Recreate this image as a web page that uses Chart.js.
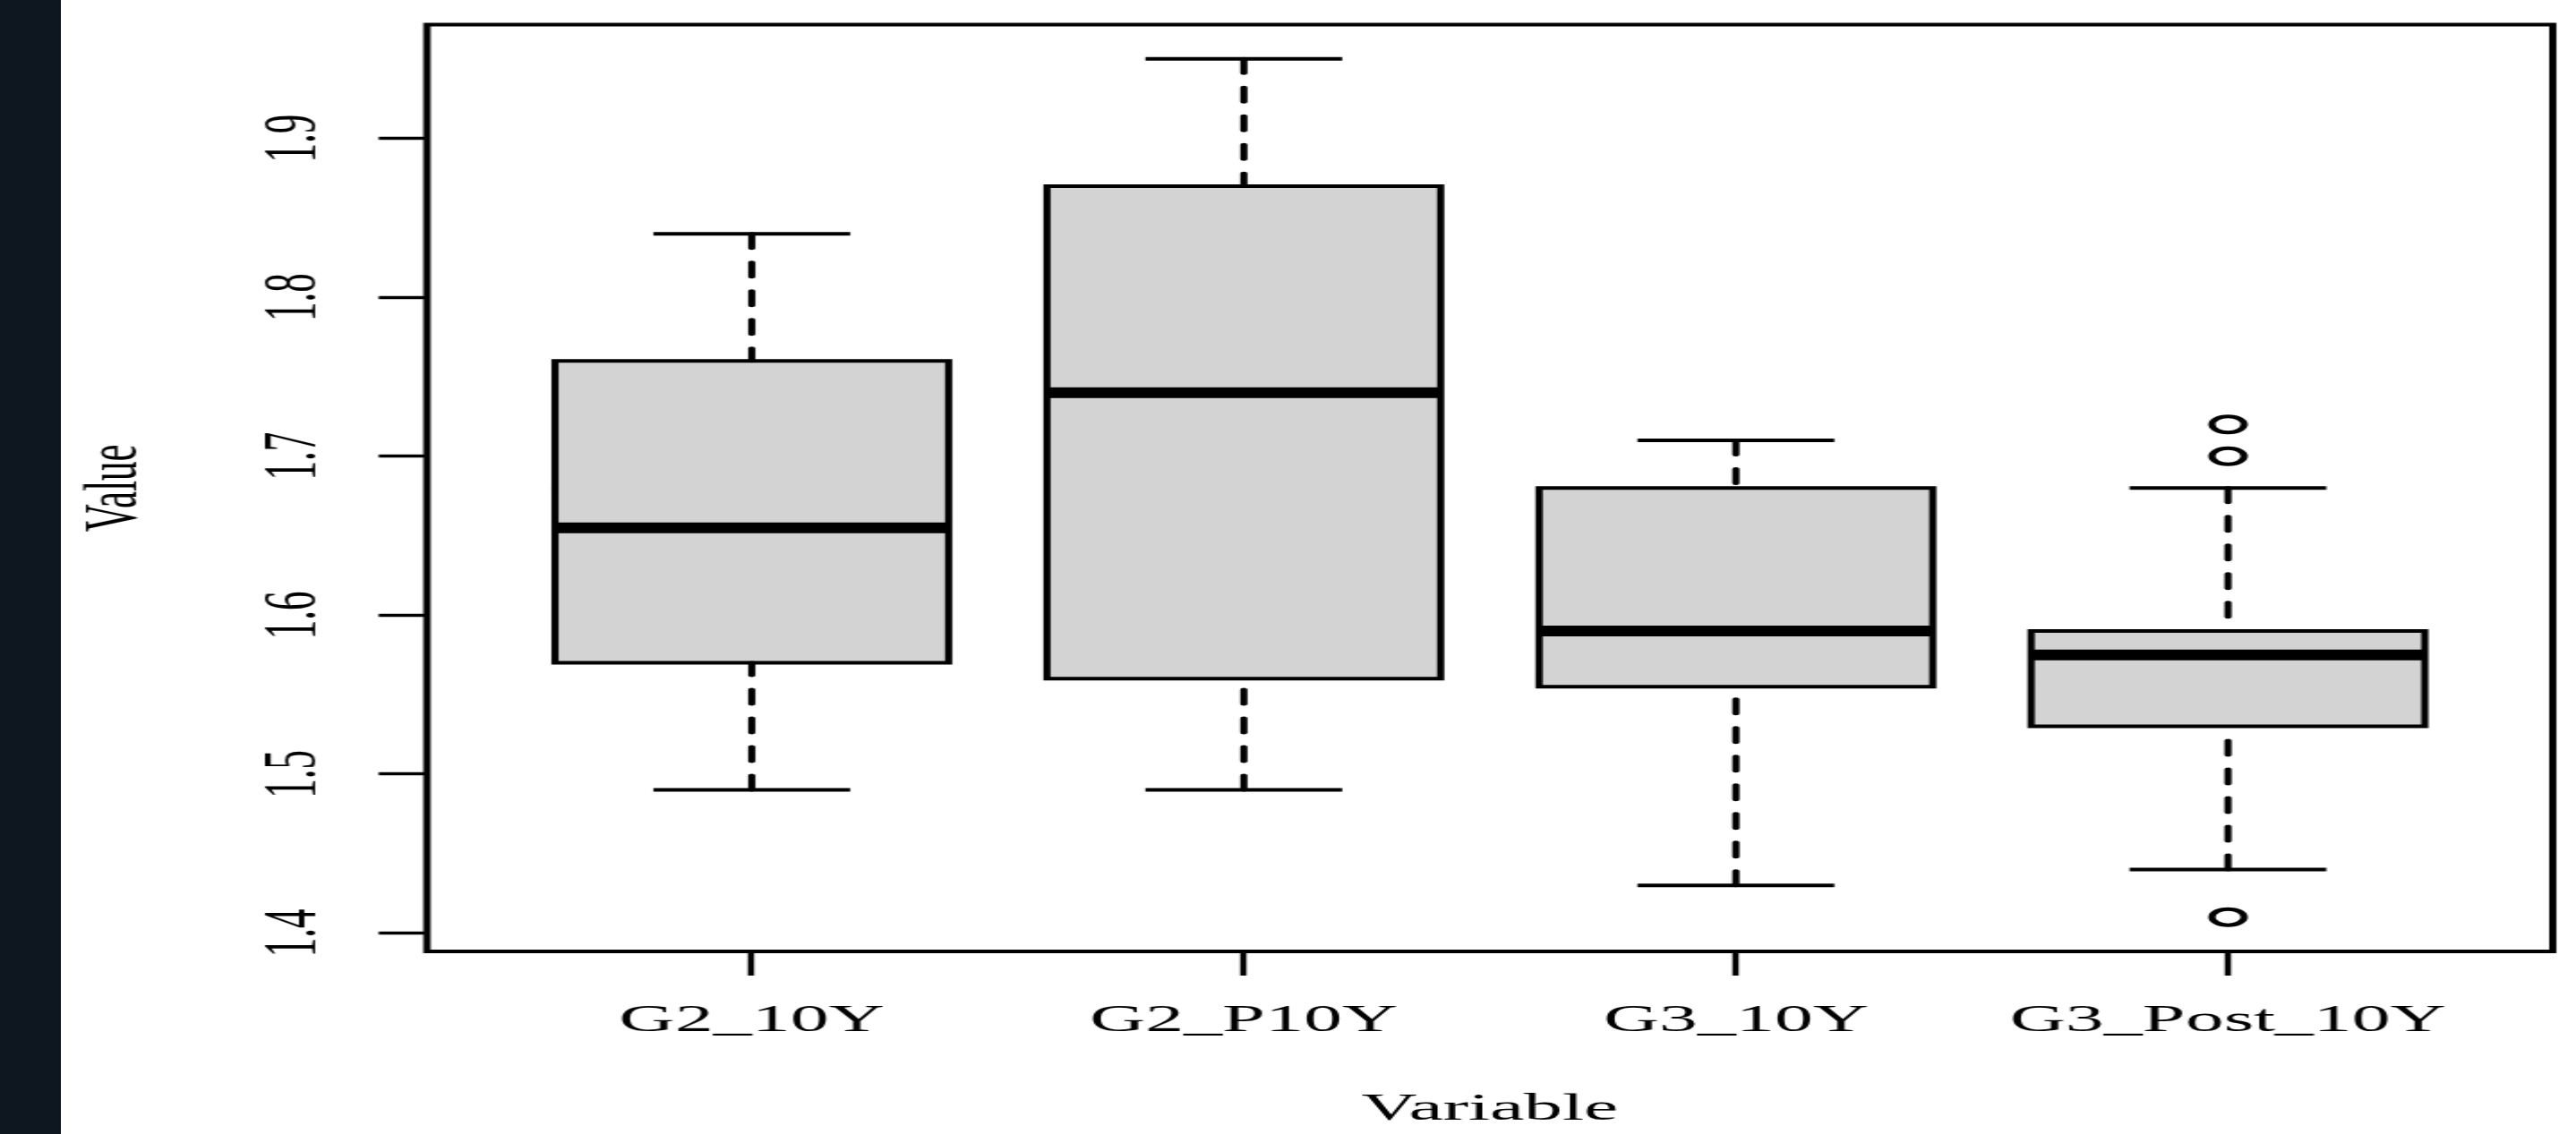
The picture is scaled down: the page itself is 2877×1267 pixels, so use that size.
<!DOCTYPE html>
<html>
<head>
<meta charset="utf-8">
<title>Boxplot</title>
<script src="https://cdn.jsdelivr.net/npm/chart.js@4.4.1/dist/chart.umd.min.js"></script>
<style>
  html, body { margin: 0; padding: 0; background: #fff; overflow: hidden; }
  #side { position: absolute; left: 0; top: 0; width: 68px; height: 1267px; background: #0e1720; }
  /* the reference is stretched sideways, so the chart is drawn narrow and scaled x2 */
  #plot { position: absolute; left: 68px; top: 0; transform: scaleX(1.99929); transform-origin: 0 0; }
</style>
</head>
<body>
<div id="side"></div>
<canvas id="plot" width="1405" height="1267"></canvas>
<script>
// data
var categories = ['G2_10Y', 'G2_P10Y', 'G3_10Y', 'G3_Post_10Y'];
var lowWhisker = [1.49, 1.49, 1.43, 1.44];
var lowerQuartile = [1.57, 1.56, 1.555, 1.53];
var medians = [1.655, 1.74, 1.59, 1.575];
var upperQuartile = [1.76, 1.87, 1.68, 1.59];
var highWhisker = [1.84, 1.95, 1.71, 1.68];
var outlierGroup = [4, 4, 4];
var outlierValues = [1.72, 1.70, 1.41];
var yTicks = [1.4, 1.5, 1.6, 1.7, 1.8, 1.9];

var black = '#000000';
var grey = '#d3d3d3';
var serif = "'Liberation Serif', 'Times New Roman', serif";

// R style range: data range plus 4% on each side
var allValues = lowWhisker.concat(highWhisker, outlierValues);
var lo = Math.min.apply(null, allValues);
var hi = Math.max.apply(null, allValues);
var yMin = lo - (hi - lo) * 0.04;
var yMax = hi + (hi - lo) * 0.04;
var n = categories.length;
var xMin = 0.5 - n * 0.04;
var xMax = n + 0.5 + n * 0.04;

var boxFill = [], boxEdges = [], whiskers = [], caps = [], medianLines = [], outliers = [];
categories.forEach(function (c, i) {
  var x = i + 1;
  boxFill.push({ x: x, y: [lowerQuartile[i], upperQuartile[i]] });
  boxEdges.push(
    { x: x - 0.4, y: lowerQuartile[i] }, { x: x - 0.4, y: upperQuartile[i] },
    { x: x + 0.4, y: upperQuartile[i] }, { x: x + 0.4, y: lowerQuartile[i] },
    { x: x - 0.4, y: lowerQuartile[i] }, { x: x - 0.4, y: upperQuartile[i] },
    { x: x + 0.5, y: null });
  whiskers.push(
    { x: x, y: highWhisker[i] }, { x: x, y: upperQuartile[i] }, { x: x + 0.1, y: null },
    { x: x, y: lowWhisker[i] }, { x: x, y: lowerQuartile[i] }, { x: x + 0.2, y: null });
  caps.push(
    { x: x - 0.2, y: highWhisker[i] }, { x: x + 0.2, y: highWhisker[i] }, { x: x + 0.3, y: null },
    { x: x - 0.2, y: lowWhisker[i] }, { x: x + 0.2, y: lowWhisker[i] }, { x: x + 0.4, y: null });
  medianLines.push({ x: x - 0.4, y: medians[i] }, { x: x + 0.4, y: medians[i] }, { x: x + 0.5, y: null });
});
for (var k = 0; k < outlierValues.length; k++) {
  outliers.push({ x: outlierGroup[k], y: outlierValues[k] });
}

function segLine(data, width, dash, cap, order) {
  return {
    type: 'line', data: data, order: order,
    borderColor: black, borderWidth: width, borderDash: dash,
    borderCapStyle: cap, borderJoinStyle: 'miter',
    pointRadius: 0, pointHoverRadius: 0, tension: 0, fill: false, spanGaps: false
  };
}

// full frame round the plot, like box() in R
var frame = {
  id: 'frame',
  afterDatasetsDraw: function (chart) {
    var a = chart.chartArea;
    var ctx = chart.ctx;
    ctx.save();
    ctx.lineWidth = 4;
    ctx.strokeStyle = black;
    ctx.strokeRect(a.left, a.top, a.right - a.left, a.bottom - a.top);
    ctx.restore();
  }
};

var ctx = document.getElementById('plot').getContext('2d');
var myChart = new Chart(ctx, {
  type: 'line',
  data: {
    datasets: [
      {
        type: 'scatter', data: outliers, order: 0,
        pointRadius: 9, pointHoverRadius: 9, pointBorderWidth: 4,
        pointBackgroundColor: 'rgba(0,0,0,0)', pointBorderColor: black, showLine: false
      },
      segLine(medianLines, 12, [], 'butt', 1),
      segLine(boxEdges, 4, [], 'butt', 2),
      segLine(caps, 4, [], 'butt', 2),
      segLine(whiskers, 4, [16, 16], 'round', 3),
      {
        type: 'bar', data: boxFill, order: 4,
        backgroundColor: grey, borderWidth: 0, borderSkipped: false,
        barPercentage: 0.8, categoryPercentage: 1.0, inflateAmount: 0
      }
    ]
  },
  options: {
    responsive: false,
    animation: false,
    devicePixelRatio: 1,
    layout: { padding: { left: 0, right: 12, top: 27.5, bottom: 0 } },
    plugins: { legend: { display: false }, tooltip: { enabled: false } },
    scales: {
      x: {
        type: 'linear', min: xMin, max: xMax, offset: false,
        afterBuildTicks: function (s) {
          s.ticks = categories.map(function (c, i) { return { value: i + 1 }; });
        },
        afterFit: function (s) {
          s.height = 204;
          s.paddingLeft = 0;
          s.paddingRight = 0;
        },
        ticks: {
          autoSkip: false, maxRotation: 0, minRotation: 0, padding: 25,
          color: black, font: { family: serif, size: 43 },
          callback: function (v, i) { return categories[i]; }
        },
        grid: {
          offset: false, drawOnChartArea: false, drawTicks: true,
          tickLength: 27, tickWidth: 3.5, tickColor: black
        },
        border: { display: false },
        title: {
          display: true, text: 'Variable', color: black,
          font: { family: serif, size: 43 }, padding: { top: 0, bottom: 1 }
        }
      },
      y: {
        type: 'linear', min: yMin, max: yMax,
        afterBuildTicks: function (s) {
          s.ticks = yTicks.map(function (v) { return { value: v }; });
        },
        afterFit: function (s) {
          s.width = 204.5;
          s.paddingTop = 0;
          s.paddingBottom = 0;
        },
        ticks: {
          minRotation: 90, maxRotation: 90, crossAlign: 'center', padding: 20,
          color: black, font: { family: serif, size: 43 },
          callback: function (v) { return v.toFixed(1); }
        },
        grid: {
          offset: false, drawOnChartArea: false, drawTicks: true,
          tickLength: 27, tickWidth: 3.5, tickColor: black
        },
        border: { display: false },
        title: {
          display: true, text: 'Value', color: black,
          font: { family: serif, size: 43 }, padding: { top: 5, bottom: 0 }
        }
      }
    }
  },
  plugins: [frame]
});
</script>
</body>
</html>
